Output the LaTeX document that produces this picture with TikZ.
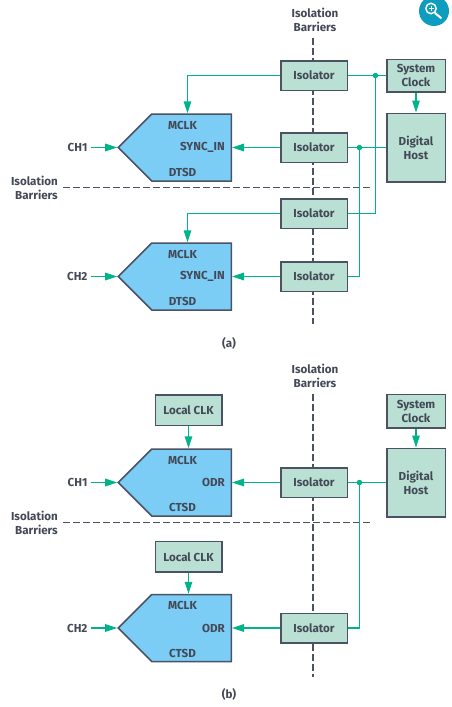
\documentclass[tikz,border=0pt]{standalone}
\usepackage{fontspec}
\setmainfont{Fira Sans}
\usepackage{xcolor}
\usetikzlibrary{positioning,arrows.meta,calc,backgrounds,shapes.symbols}
\definecolor{ink}{HTML}{434957}
\definecolor{edge}{HTML}{4A5263}
\definecolor{mint}{HTML}{B9E0D2}
\definecolor{sky}{HTML}{7BCDF5}
\definecolor{wirecol}{HTML}{00B388}
\definecolor{badge}{HTML}{0E9DBE}
\begin{document}
\begin{tikzpicture}[x=1pt,y=1pt,
  node distance=20pt and 38pt,
  every node/.style={text=ink,font=\bfseries\fontsize{11.6}{14}\selectfont},
  iso/.style={draw=edge,fill=mint,line width=1.5pt,minimum width=66.5pt,
              minimum height=29.5pt,inner sep=0pt,align=center},
  host/.style={iso,minimum width=58.5pt},
  lclk/.style={iso,minimum height=30.5pt},
  adc/.style={draw=edge,fill=sky,line width=1.5pt,signal,signal to=west,
              signal pointer angle=90,minimum width=113pt,minimum height=67pt,inner sep=0pt},
  lab/.style={inner sep=0pt},
  chan/.style={inner sep=0pt,inner xsep=3.5pt},
  capt/.style={align=center,inner sep=4pt},
  dot/.style={circle,fill=wirecol,minimum size=5.5pt,inner sep=0pt},
  wire/.style={wirecol,line width=1.5pt},
  fl/.style={wire,-{Triangle[length=12pt,width=7.5pt]}},
  bar/.style={edge,line width=1.5pt,dash pattern=on 6.5pt off 3.5pt}]
\useasboundingbox (0,0) rectangle (452,-707);
% (a)
\node[iso] (isoa1) at (314,-75.5) {Isolator};
\node[iso,below=41pt of isoa1] (isoa2) {Isolator};
\node[iso,below=35pt of isoa2] (isoa3) {Isolator};
\node[iso,below=32pt of isoa3] (isoa4) {Isolator};
\node[host,right=of isoa1,minimum height=32.5pt] (clka) {System\\Clock};
\node[host,below=of clka,minimum height=68.5pt] (hosta) {Digital\\Host};
\node[adc,left=48pt of isoa2] (adca1) {};
\node[adc,left=48pt of isoa4] (adca2) {};
\node[lab] (mcka1) at ([xshift=-9pt,yshift=-12pt]adca1.north) {MCLK};
\node[lab,anchor=east] (synca1) at ([xshift=-7pt]adca1.east) {SYNC\_IN};
\node[lab] (dtsda1) at ([xshift=-9pt,yshift=9pt]adca1.south) {DTSD};
\node[lab] (mcka2) at ([xshift=-9pt,yshift=-12pt]adca2.north) {MCLK};
\node[lab,anchor=east] (synca2) at ([xshift=-7pt]adca2.east) {SYNC\_IN};
\node[lab] (dtsda2) at ([xshift=-9pt,yshift=9pt]adca2.south) {DTSD};
\node[chan,left=26pt of adca1.west] (cha1) {CH1};
\node[chan,left=26pt of adca2.west] (cha2) {CH2};
\node[dot,right=24.5pt of isoa1.east] (clkja) {};
\node[dot,right=8.5pt of isoa2.east] (syncja) {};
\node[capt] (barta) at (315,-20) {Isolation\\Barriers};
\node[capt,anchor=east,inner sep=0pt,align=right] (barla) at (58,-187.5) {Isolation\\Barriers};
\node[capt] (capa) at (229,-343.5) {(a)};
\coordinate (vtopa) at (313,-38);
\coordinate (vbota) at (313,-324);
\coordinate (hbara) at (370,-187.5);
\draw[fl] (isoa1.west) -| ([xshift=-4pt]adca1.north);
\draw[fl] (isoa3.west) -| ([xshift=-4pt]adca2.north);
\draw[fl] (isoa2.west) -- (adca1.east);
\draw[fl] (isoa4.west) -- (adca2.east);
\draw[fl] (cha1.east) -- (adca1.west);
\draw[fl] (cha2.east) -- (adca2.west);
\draw[fl] (clka.south) -- (hosta.north);
\draw[wire] (isoa1.east) -- (clkja) -- (clka.west);
\draw[wire] (isoa2.east) -- (syncja) -- (hosta.west);
\draw[wire] (clkja) |- (isoa3.east);
\draw[wire] (syncja) |- (isoa4.east);
\begin{scope}[on background layer]
\draw[bar] (vtopa) -- (vbota);
\draw[bar] (barla.east) ++(5pt,0) -- (hbara);
\end{scope}
% (b)
\node[iso] (isob1) at (314,-482.5) {Isolator};
\node[iso,below=114.5pt of isob1] (isob2) {Isolator};
\node[host,right=of isob1,minimum height=68.5pt] (hostb) {Digital\\Host};
\node[host,above=19pt of hostb,minimum height=33.5pt] (clkb) {System\\Clock};
\node[adc,left=48pt of isob1] (adcb1) {};
\node[adc,left=48pt of isob2] (adcb2) {};
\node[lclk,above=22pt of adcb1.north,xshift=-3pt] (lclkb1) {Local CLK};
\node[lclk,above=21pt of adcb2.north,xshift=-3pt] (lclkb2) {Local CLK};
\node[lab] (mckb1) at ([xshift=-9pt,yshift=-12pt]adcb1.north) {MCLK};
\node[lab,anchor=east] (odrb1) at ([xshift=-7pt]adcb1.east) {ODR};
\node[lab] (ctsdb1) at ([xshift=-9pt,yshift=9pt]adcb1.south) {CTSD};
\node[lab] (mckb2) at ([xshift=-9pt,yshift=-12pt]adcb2.north) {MCLK};
\node[lab,anchor=east] (odrb2) at ([xshift=-7pt]adcb2.east) {ODR};
\node[lab] (ctsdb2) at ([xshift=-9pt,yshift=9pt]adcb2.south) {CTSD};
\node[chan,left=26pt of adcb1.west] (chb1) {CH1};
\node[chan,left=26pt of adcb2.west] (chb2) {CH2};
\node[dot,right=8.5pt of isob1.east] (syncjb) {};
\node[capt] (bartb) at (315,-376) {Isolation\\Barriers};
\node[capt,anchor=east,inner sep=0pt,align=right] (barlb) at (58,-522.5) {Isolation\\Barriers};
\node[capt] (capb) at (229,-694.5) {(b)};
\coordinate (vtopb) at (313,-394);
\coordinate (vbotb) at (313,-677);
\coordinate (hbarb) at (370,-522.5);
\draw[fl] (lclkb1.south) -- (lclkb1.south |- adcb1.north);
\draw[fl] (lclkb2.south) -- (lclkb2.south |- adcb2.north);
\draw[fl] (isob1.west) -- (adcb1.east);
\draw[fl] (isob2.west) -- (adcb2.east);
\draw[fl] (chb1.east) -- (adcb1.west);
\draw[fl] (chb2.east) -- (adcb2.west);
\draw[fl] (clkb.south) -- (hostb.north);
\draw[wire] (isob1.east) -- (syncjb) -- (hostb.west);
\draw[wire] (syncjb) |- (isob2.east);
\begin{scope}[on background layer]
\draw[bar] (vtopb) -- (vbotb);
\draw[bar] (barlb.east) ++(5pt,0) -- (hbarb);
\end{scope}
% zoom badge
\begin{scope}
\clip (400,0) rectangle (452,-40);
\fill[badge] (434,-11) circle (15);
\draw[white,line width=1.5pt] (431,-8.5) circle (5.2);
\draw[white,line width=2pt,line cap=round] (435,-13) -- (441,-18);
\draw[white,line width=1pt] (428.5,-8.5) -- (433.5,-8.5) (431,-6) -- (431,-11);
\end{scope}
\end{tikzpicture}
\end{document}
